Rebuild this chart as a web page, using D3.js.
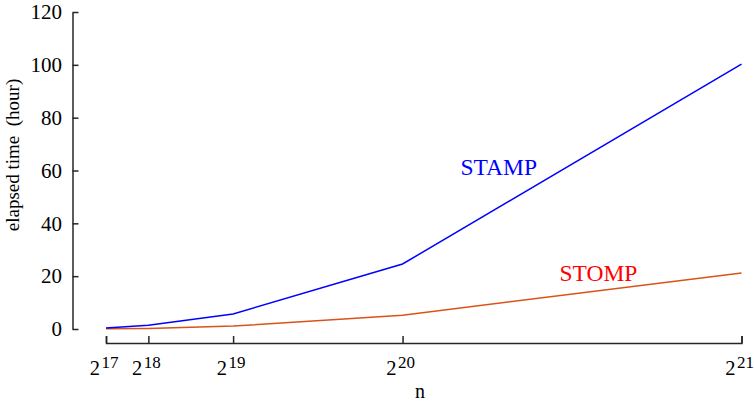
<!DOCTYPE html>
<html>
<head>
<meta charset="utf-8">
<script src="https://cdn.jsdelivr.net/npm/d3@7"></script>
<style>
  html, body { margin: 0; padding: 0; background: #fff; }
  svg { display: block; }
</style>
</head>
<body>
<svg id="chart" width="754" height="402"></svg>
<script>
// ---- data ----
const exponents = [17, 18, 19, 20, 21];
const nValues = exponents.map(e => Math.pow(2, e));
const stamp = [0.4, 1.4, 5.7, 24.6, 100.3];
const stomp = [0.05, 0.2, 1.1, 5.2, 21.2];
const yTicks = [0, 20, 40, 60, 80, 100, 120];
const seriesNames = ["STAMP", "STOMP"];

const FONT = "Liberation Serif";
const svg = d3.select("#chart");

const x = d3.scaleLinear().domain([nValues[0], nValues[nValues.length - 1]]).range([106, 741.5]);
const y = d3.scaleLinear().domain([0, 120]).range([329, 12]);

const axisColor = "#262626";

// y axis
const yAxis = svg.append("g")
  .attr("transform", "translate(72.5,0)")
  .call(d3.axisLeft(y).tickValues(yTicks).tickSizeInner(-6).tickSizeOuter(0).tickPadding(10.5));
yAxis.attr("font-family", FONT).attr("font-size", 21);
yAxis.select(".domain").attr("stroke", axisColor).attr("stroke-width", 1.5);
yAxis.selectAll(".tick line").attr("stroke", axisColor).attr("stroke-width", 1.5);
yAxis.selectAll(".tick text").attr("fill", "#000");

// x axis
const xAxis = svg.append("g")
  .attr("transform", "translate(0,343)")
  .call(d3.axisBottom(x).tickValues(nValues).tickSizeInner(-7).tickSizeOuter(-7).tickFormat(""));
xAxis.attr("font-family", FONT).attr("font-size", 20.5);
xAxis.select(".domain").attr("stroke", axisColor).attr("stroke-width", 1.5);
xAxis.selectAll(".tick line").attr("stroke", axisColor).attr("stroke-width", 1.5);
xAxis.selectAll(".tick text").remove();
xAxis.selectAll(".tick").each(function(d, i) {
  const t = d3.select(this).append("text")
    .attr("x", -2.5)
    .attr("y", 32)
    .attr("text-anchor", "middle")
    .attr("fill", "#000");
  t.append("tspan").text("2");
  t.append("tspan").attr("dy", -7.5).attr("dx", 1.5).attr("font-size", 17).text(String(exponents[i]));
});

// axis titles
svg.append("text")
  .attr("x", 420).attr("y", 397.5)
  .attr("text-anchor", "middle")
  .attr("font-family", FONT)
  .attr("font-size", 20)
  .text("n");

svg.append("text")
  .attr("transform", "translate(19,155) rotate(-90)")
  .attr("text-anchor", "middle")
  .attr("font-family", FONT)
  .attr("font-size", 19)
  .attr("xml:space", "preserve")
  .style("white-space", "pre")
  .text("elapsed time  (hour)");

// lines
const line = d3.line().x((d, i) => x(nValues[i])).y(d => y(d));

svg.append("path")
  .datum(stomp)
  .attr("fill", "none")
  .attr("stroke", "#d95319")
  .attr("stroke-width", 1.5)
  .attr("d", line);

svg.append("path")
  .datum(stamp)
  .attr("fill", "none")
  .attr("stroke", "#0000ff")
  .attr("stroke-width", 1.5)
  .attr("d", line);

// series labels
svg.append("text")
  .attr("x", 460.5).attr("y", 175)
  .attr("fill", "#0000ff")
  .attr("font-family", FONT)
  .attr("font-size", 23.5)
  .text(seriesNames[0]);

svg.append("text")
  .attr("x", 559.5).attr("y", 280.5)
  .attr("fill", "#ff0000")
  .attr("font-family", FONT)
  .attr("font-size", 23.5)
  .text(seriesNames[1]);
</script>
</body>
</html>
